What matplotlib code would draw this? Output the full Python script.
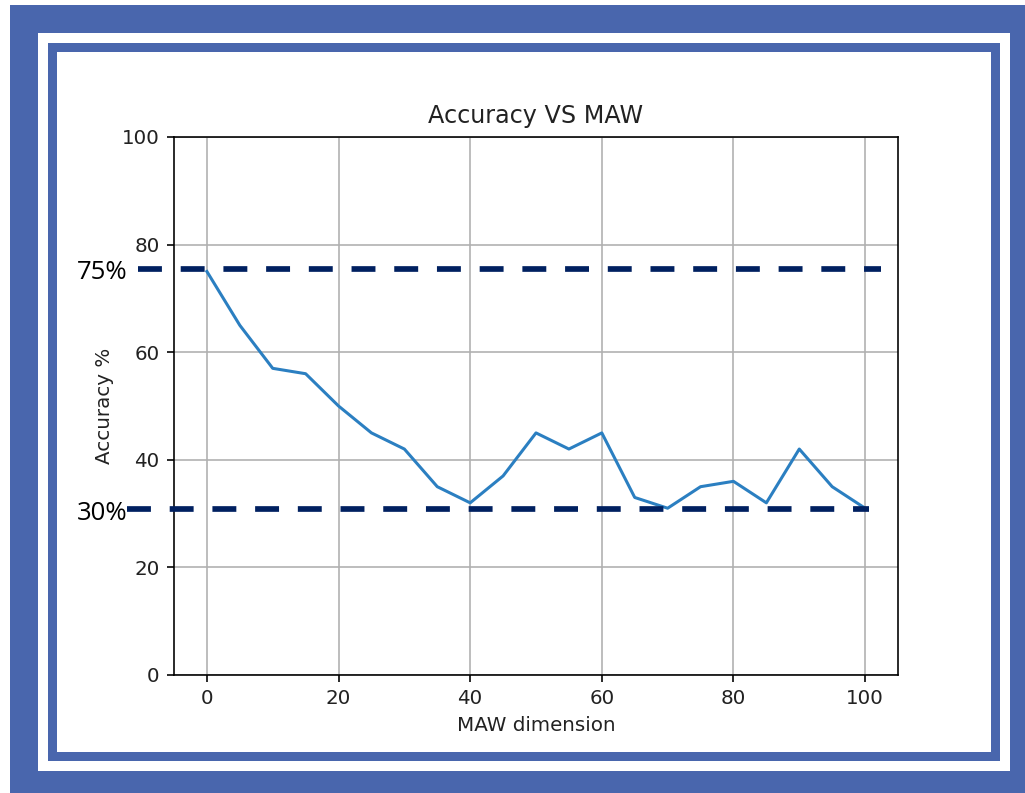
import matplotlib
matplotlib.use('Agg')

import matplotlib.pyplot as plt
from matplotlib.patches import Rectangle

# data
maw_dim = [0, 5, 10, 15, 20, 25, 30, 35, 40, 45, 50,
           55, 60, 65, 70, 75, 80, 85, 90, 95, 100]
accuracy = [75, 65, 57, 56, 50, 45, 42, 35, 32, 37, 45,
            42, 45, 33, 31, 35, 36, 32, 42, 35, 31]

# hand drawn reference lines and their labels
ref_levels = [75.5, 30.8]
ref_labels = ["75%", "30%"]
ref_spans = [(-10.5, 102.4), (-12.2, 100.6)]

W, H = 1025, 793
fig = plt.figure(figsize=(W / 100, H / 100), dpi=100)
fig.patch.set_facecolor('white')

frame_blue = '#4966ad'

def px_rect(x0, y0, x1, y1, color):
    # pixel box (top-left origin) -> figure fraction
    r = Rectangle((x0 / W, 1 - y1 / H), (x1 - x0) / W, (y1 - y0) / H,
                  transform=fig.transFigure, facecolor=color,
                  edgecolor='none', zorder=-5)
    fig.patches.append(r)

px_rect(10, 5, 1025, 793, frame_blue)
px_rect(38, 33, 1010, 771, 'white')
px_rect(48, 43, 1000, 761, frame_blue)
px_rect(57, 52, 991, 752, 'white')

s = 1.46  # scale from a default 640x480 matplotlib image
ax = fig.add_axes([174 / W, (H - 675) / H, 724 / W, 538 / H])

ax.plot(maw_dim, accuracy, color='#2b7fc1', linewidth=1.5 * s, zorder=3)
ax.set_xlim(-5, 105)
ax.set_ylim(0, 100)
ax.set_xticks([0, 20, 40, 60, 80, 100])
ax.set_yticks([0, 20, 40, 60, 80, 100])
ax.grid(True, color='#b0b0b0', linewidth=0.8 * s)
ax.set_axisbelow(True)

txt = '#222222'
ax.set_title("Accuracy VS MAW", fontsize=11.8 * s, pad=7 * s, color=txt)
ax.set_xlabel("MAW dimension", fontsize=9.8 * s, labelpad=4 * s, color=txt)
ax.set_ylabel("Accuracy %", fontsize=9.8 * s, labelpad=4 * s, color=txt)
ax.tick_params(labelsize=9.8 * s, length=3.5 * s, width=0.8 * s, pad=3.5 * s,
               labelcolor=txt)
for sp in ax.spines.values():
    sp.set_linewidth(0.8 * s)

lw = 4.1
for lvl, lab, (x0, x1) in zip(ref_levels, ref_labels, ref_spans):
    ax.plot([x0, x1], [lvl, lvl], color='#002060', linewidth=lw,
            linestyle=(0, (4.2, 3.3)), solid_capstyle='butt',
            dash_capstyle='butt', clip_on=False, zorder=4)
    ax.text(-12.0, lvl - 0.7, lab, ha='right', va='center',
            fontsize=18.5, family='Open Sans', color='black', clip_on=False)

fig.savefig("out.png", dpi=100)
plt.close(fig)
